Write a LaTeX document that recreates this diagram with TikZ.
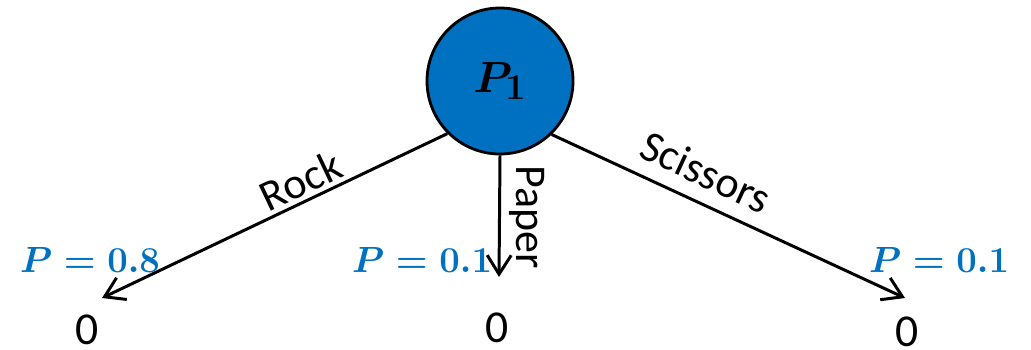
\documentclass[tikz,border=0pt]{standalone}
\usepackage{amsmath,amssymb}
\usepackage{fontspec}
\setmainfont{Carlito}
\usetikzlibrary{arrows.meta,positioning,shadows}
\definecolor{pblue}{HTML}{0070C0}
\definecolor{pline}{HTML}{000000}
\tikzset{
  player/.style  = {circle, draw=pline, line width=1.6pt, fill=pblue,
                    minimum size=2.92cm, inner sep=0pt,
                    font=\fontsize{28}{30}\selectfont\boldmath},
  move/.style    = {-{Straight Barb[length=3.8mm,width=4.8mm]},
                    draw=pline, line width=1.7pt},
  mlab/.style    = {font=\fontsize{25}{28}\selectfont, inner sep=2pt},
  plab/.style    = {font=\fontsize{20}{24}\selectfont\boldmath, text=pblue,
                    inner sep=0pt},
  util/.style    = {font=\fontsize{26}{30}\selectfont, inner sep=0pt},
}

\begin{document}
\begin{tikzpicture}[x=0.2mm,y=-0.2mm]
  \useasboundingbox (0,0) rectangle (1031,350);
  \node[player] (p1) at (500,81) {$P_1$};
  % end points of the three moves
  \coordinate (rockend) at (102,298);
  \coordinate (paperend) at (499,277);
  \coordinate (sciend) at (905,298);
  \draw[move] (p1.225) -- node[mlab, pos=0.4, above, sloped] {Rock} (rockend);
  \draw[move] (p1.south) -- node[mlab, pos=0.51, rotate=-90, anchor=south,
    inner sep=5pt] {Paper} (paperend);
  \draw[move] (p1.314) -- node[mlab, pos=0.4, above=6pt, sloped] {Scissors} (sciend);
  % probabilities
  \node[plab] (prock) at (90,260) {$P=0.8$};
  \node[plab] (ppaper) at (422,260) {$P=0.1$};
  \node[plab] (psci) at (939,260) {$P=0.1$};
  % payoffs
  \node[util] (urock) at (87,330) {0};
  \node[util] (upaper) at (497,328) {0};
  \node[util] (usci) at (907,332) {0};
\end{tikzpicture}
\end{document}
